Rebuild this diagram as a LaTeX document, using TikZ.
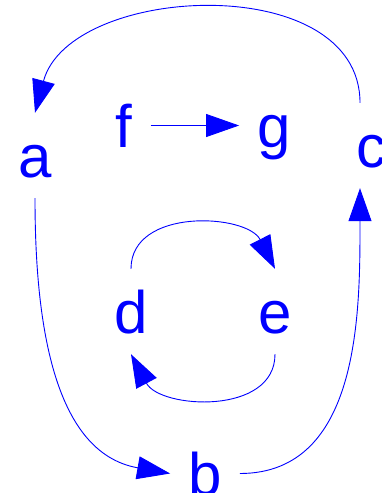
\documentclass[tikz,border=0pt]{standalone}
\usepackage{fontspec}
\setmainfont{Liberation Sans}
\usetikzlibrary{arrows.meta}

\begin{document}
\begin{tikzpicture}[
    x=1pt, y=1pt,
    font=\fontsize{60}{72}\selectfont,
    vertex/.style={text=blue, anchor=base, inner xsep=18pt, inner ysep=0pt, text height=64pt, text depth=21pt},
    link/.style={-{Triangle[length=33pt,width=23pt]}, draw=blue, line width=0.9pt}
  ]
    \useasboundingbox (0,0) rectangle (382,-493);
    \node[vertex] (a) at (35,-177) {a};
    \node[vertex] (f) at (124,-147) {f};
    \node[vertex] (g) at (274,-147) {g};
    \node[vertex] (c) at (371,-167) {c};
    \node[vertex] (d) at (131,-333) {d};
    \node[vertex] (e) at (275,-333) {e};
    \node[vertex] (b) at (205,-495) {b};
    \draw[link] ([xshift=-11pt]c.north) to[out=90, in=75, looseness=1.05] (a.north);
    \draw[link] (f) -- (g);
    \draw[link] (a.south) to[out=-90, in=170] (b.west);
    \draw[link] (b.east) to[out=0, in=-90] ([xshift=-11pt]c.south);
    \draw[link] (d.north) to[out=90, in=117, looseness=1.1] (e.north);
    \draw[link] (e.south) to[out=-90, in=-62, looseness=1.1] (d.south);
  \end{tikzpicture}
\end{document}
